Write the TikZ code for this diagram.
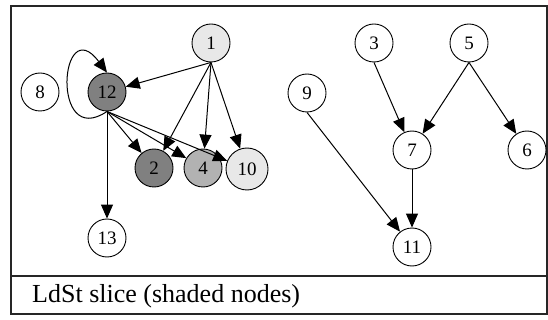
\documentclass[tikz,border=0pt]{standalone}
\usepackage{fontspec}
\setmainfont{Liberation Serif}
\usetikzlibrary{arrows.meta}
\tikzset{%
	vertex/.style={circle,draw,line width=0.9pt,minimum size=38pt,inner sep=0pt,font=\fontsize{19}{19}\selectfont},
	edge/.style={-{Triangle[length=14pt,width=12pt]},line width=1pt},
	frame/.style={line width=1.6pt,draw=black!85},
}
\begin{document}
\begin{tikzpicture}[x=1pt,y=-1pt]
			\useasboundingbox (0,0) rectangle (548,320);
			
			%RAMKA
			\draw[frame] (11,6) rectangle (547,314);
			\draw[frame] (11,276) -- (547,276);
			\node[anchor=west,inner sep=0pt,font=\fontsize{26}{26}\selectfont] (cap) at (32,296) {LdSt slice (shaded nodes)};
			
			%LEVI GRAF
			\node[vertex, fill=black!9] (n1) at (211,43) {1};
			\node[vertex, fill=black!50] (n12) at (107,92) {12};
			\node[vertex] (n8) at (40,92) {8};
			\node[vertex, fill=black!50] (n2) at (154,168) {2};
			\node[vertex, fill=black!30] (n4) at (203,168) {4};
			\node[vertex, fill=black!9, minimum width=42pt] (n10) at (247,169) {10};
			\node[vertex] (n13) at (107,238) {13};
			
			%DESNI GRAF
			\node[vertex] (n3) at (374,43) {3};
			\node[vertex] (n5) at (469,43) {5};
			\node[vertex] (n9) at (307,93) {9};
			\node[vertex] (n7) at (412,150) {7};
			\node[vertex] (n6) at (527,150) {6};
			\node[vertex] (n11) at (412,247) {11};
			
			%POVEZAVE
			\draw[edge] (n1.south) -- (n12);
			\draw[edge] (n1.south) -- (n2);
			\draw[edge] (n1.south) -- (n4);
			\draw[edge] (n1.south) -- (n10);
			\draw[edge] (n12.south) -- (n2);
			\draw[edge] (n12.south) -- (n4);
			\draw[edge] (n12.south) -- (n10);
			\draw[edge] (n12.south) -- (n13);
			\draw[edge] (n12.south) .. controls (50,150) and (60,10) .. (n12.north); %zanka
			
			\draw[edge] (n3.south) -- (n7);
			\draw[edge] (n5.south) -- (n7);
			\draw[edge] (n5.south) -- (n6);
			\draw[edge] (n9.south) -- (n11);
			\draw[edge] (n7.south) -- (n11);
			
			\end{tikzpicture}
\end{document}
